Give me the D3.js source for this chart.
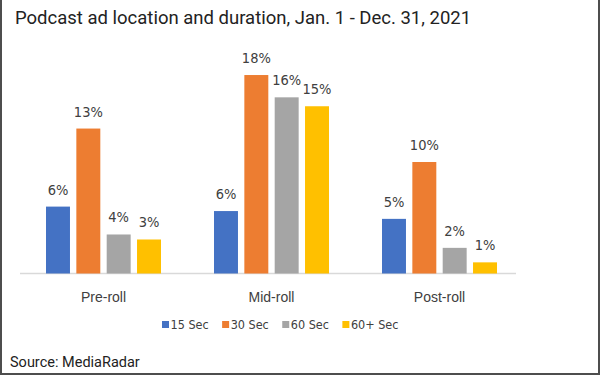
<!DOCTYPE html>
<html>
<head>
<meta charset="utf-8">
<script src="https://cdn.jsdelivr.net/npm/d3@7"></script>
<style>
  body { margin: 0; background: #fff; }
  svg { display: block; }
  .narrow { font-family: "Liberation Sans Narrow", "Arial Narrow", "DejaVu Sans Condensed", sans-serif; }
  .plain { font-family: "Liberation Sans", Arial, "DejaVu Sans", sans-serif; }
  .rob { font-family: Roboto, sans-serif; }
</style>
</head>
<body>
<div id="chart"></div>
<script>
// data
var categories = ["Pre-roll", "Mid-roll", "Post-roll"];
var series = ["15 Sec", "30 Sec", "60 Sec", "60+ Sec"];
var colors = ["#4472C4", "#ED7D31", "#A5A5A5", "#FFC000"];
// bar heights (percent)
var sec15 = [6.0, 5.6, 4.9];
var sec30 = [13.0, 17.8, 10.0];
var sec60 = [3.5, 15.8, 2.3];
var sec60plus = [3.05, 15.0, 1.0];
// labels printed on the bars
var sec15Labels = ["6%", "6%", "5%"];
var sec30Labels = ["13%", "18%", "10%"];
var sec60Labels = ["4%", "16%", "2%"];
var sec60plusLabels = ["3%", "15%", "1%"];

var width = 600, height = 375;

var values = [sec15, sec30, sec60, sec60plus];
var labels = [sec15Labels, sec30Labels, sec60Labels, sec60plusLabels];

var rows = [];
series.forEach(function(s, i) {
  categories.forEach(function(c, j) {
    rows.push({cat: c, series: s, si: i, value: values[i][j], label: labels[i][j]});
  });
});

var svg = d3.select("#chart").append("svg")
  .attr("width", width)
  .attr("height", height);

// frame (left, right, bottom)
svg.append("path")
  .attr("d", "M1,0V374H599V0")
  .attr("fill", "none")
  .attr("stroke", "#4d4d4d")
  .attr("stroke-width", 2);

svg.append("text")
  .attr("class", "rob")
  .attr("x", 15)
  .attr("y", 24)
  .attr("font-size", 18.5)
  .attr("fill", "#222")
  .text("Podcast ad location and duration, Jan. 1 - Dec. 31, 2021");

var x0 = d3.scaleBand().domain(categories).range([19.5, 523.5]);
var x1 = d3.scaleBand().domain(series).range([26.5, 141.5]).paddingInner(0.21);
var y = d3.scaleLinear().domain([0, 20]).range([273.5, 50.5]);

// baseline
svg.append("line")
  .attr("x1", 20).attr("x2", 516)
  .attr("y1", y(0)).attr("y2", y(0))
  .attr("stroke", "#d9d9d9")
  .attr("stroke-width", 1.5);

var bars = svg.append("g");
bars.selectAll("rect")
  .data(rows)
  .enter().append("rect")
  .attr("x", function(d) { return x0(d.cat) + x1(d.series); })
  .attr("y", function(d) { return y(d.value); })
  .attr("width", x1.bandwidth())
  .attr("height", function(d) { return y(0) - y(d.value); })
  .attr("fill", function(d) { return colors[d.si]; });

bars.selectAll("text")
  .data(rows)
  .enter().append("text")
  .attr("class", "narrow")
  .attr("x", function(d) { return x0(d.cat) + x1(d.series) + x1.bandwidth() / 2; })
  .attr("y", function(d) { return y(d.value) - 12; })
  .attr("text-anchor", "middle")
  .attr("font-size", 14.5)
  .attr("fill", "#404040")
  .text(function(d) { return d.label; });

// category labels
svg.append("g").selectAll("text")
  .data(categories)
  .enter().append("text")
  .attr("class", "plain")
  .attr("x", function(c) { return x0(c) + 84; })
  .attr("y", 302)
  .attr("text-anchor", "middle")
  .attr("font-size", 14)
  .attr("fill", "#404040")
  .text(function(c) { return c; });

// legend
var legend = svg.append("g");
var lx = 162;
series.forEach(function(s, i) {
  legend.append("rect")
    .attr("x", lx).attr("y", 321)
    .attr("width", 7).attr("height", 7)
    .attr("fill", colors[i]);
  var t = legend.append("text")
    .attr("class", "narrow")
    .attr("x", lx + 8.5)
    .attr("y", 329)
    .attr("font-size", 12.5)
    .attr("fill", "#404040")
    .text(s);
  lx += 8.5 + t.node().getComputedTextLength() + 13.5;
});

svg.append("text")
  .attr("class", "rob")
  .attr("x", 10)
  .attr("y", 367)
  .attr("font-size", 14.5)
  .attr("fill", "#222")
  .text("Source: MediaRadar");
</script>
</body>
</html>
